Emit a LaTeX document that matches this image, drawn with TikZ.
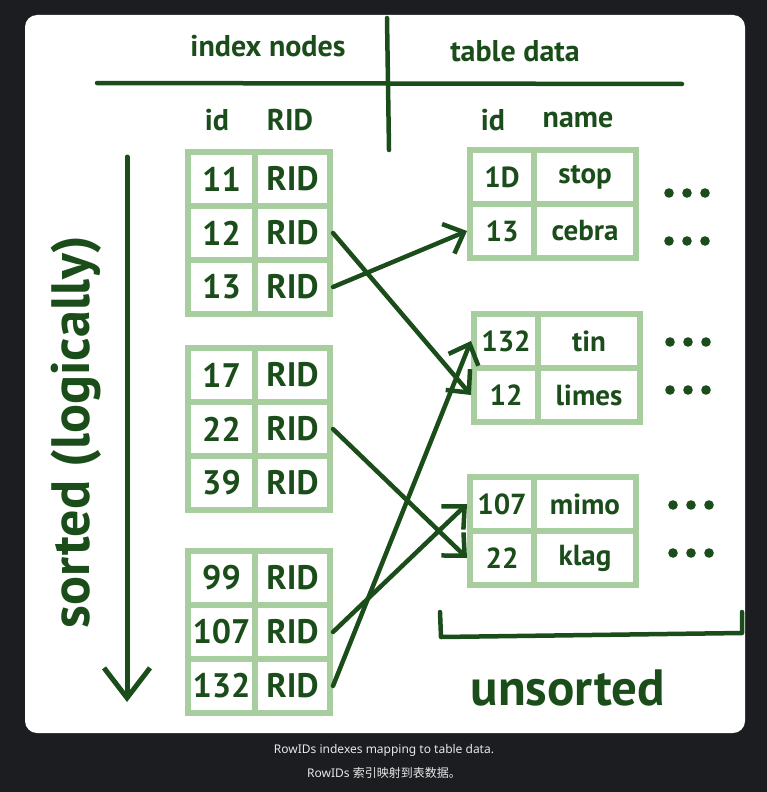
\documentclass[tikz,border=0pt]{standalone}
\usepackage{fontspec}
\setmainfont{PT Sans}
\newfontfamily\capfont{Noto Sans}
\newfontfamily\cjkfont{Noto Sans CJK SC}
\usetikzlibrary{arrows.meta}
\definecolor{inkgreen}{RGB}{27,77,27}
\definecolor{boxgreen}{RGB}{168,206,160}
\definecolor{pagebg}{RGB}{28,29,33}
\definecolor{captext}{RGB}{232,232,232}

\tikzset{
  cell/.style={draw=boxgreen, line width=6pt, minimum height=54pt, inner sep=0pt,
    text=inkgreen, font=\bfseries\fontsize{34}{34}\selectfont},
  datacell/.style={cell, font=\bfseries\fontsize{29}{29}\selectfont},
  head/.style={text=inkgreen, font=\bfseries\fontsize{30}{30}\selectfont},
  ink/.style={draw=inkgreen, line width=4.5pt, line cap=round, line join=round},
  link/.style={ink, -{Straight Barb[length=17pt,width=32pt]}},
}

\begin{document}
\begin{tikzpicture}[x=1pt,y=-1pt]
    % Draw the page and the card
    \useasboundingbox (0,0) rectangle (767,792);
    \fill[pagebg] (0,0) rectangle (767,792);
    \fill[white, rounded corners=12pt] (25,15) rectangle (745,733);

    % Draw the header cross
    \node[head] (idxhead) at (268,46) {index nodes};
    \node[head] (tblhead) at (515,51) {table data};
    \draw[ink] (97,83) -- (682,84);
    \draw[ink] (387,18) -- (389,150);

    % Column headings
    \node[head] (idxid) at (217,120) {id};
    \node[head] (idxrid) at (290,120) {RID};
    \node[head] (tblid) at (493,120) {id};
    \node[head] (tblname) at (578,120) {name};

    % Draw the index nodes
    \foreach \n/\y in {11/179, 12/233, 13/287, 17/375, 22/429, 39/483, 99/578, 107/632, 132/686}
    {
        \node[cell, minimum width=67pt] (id\n) at (221.5,\y) {\n};
        \node[cell, minimum width=75pt] (rid\n) at (292.5,\y) {RID};
    }

    % Draw the table data
    \foreach \k/\nm/\x/\y in {1D/stop/470/177, 13/cebra/470/231, 132/tin/474/341, 12/limes/474/395, 107/mimo/470/504, 22/klag/470/558}
    {
        \node[datacell, minimum width=64pt] (d\k) at (\x+32,\y) {\k};
        \node[datacell, minimum width=102pt] (n\k) at (\x+115,\y) {\nm};
    }

    % Add the dots
    \foreach \y/\x in {193/669, 241/669, 342/670, 390/670, 505/673, 553/673}
        \foreach \dx in {0,18,36}
            \fill[inkgreen] (\x+\dx,\y) circle (4.8pt);

    % Draw the RID links
    \draw[link] (rid13.east) -- (d13.west);
    \draw[link] (rid12.east) -- (d12.west);
    \draw[link] (rid22.east) -- (d22.west);
    \draw[link] (rid107.east) -- (d107.west);
    \draw[link] (rid132.east) -- (d132.west);

    % Sorted side
    \coordinate (sorttop) at (127,157);
    \coordinate (sortend) at (127,702);
    \draw[ink, line width=5pt, -{Straight Barb[length=30pt,width=46pt]}] (sorttop) -- (sortend);
    \node[text=inkgreen, rotate=90, font=\bfseries\fontsize{54}{54}\selectfont] (sortlbl) at (76,432) {sorted (logically)};

    % Unsorted bracket
    \draw[ink] (440,612) -- (441,637) -- (742,633) -- (742,612);
    \node[text=inkgreen, font=\bfseries\fontsize{51}{51}\selectfont] (unsortlbl) at (568,688) {unsorted};

    % Caption
    \node[text=captext, font=\capfont\fontsize{12}{14}\selectfont] (cap1) at (384,750) {RowIDs indexes mapping to table data.};
    \node[text=captext, font=\capfont\fontsize{12}{14}\selectfont] (cap2) at (384,773) {RowIDs {\cjkfont 索引映射到表数据。}};
\end{tikzpicture}
\end{document}
